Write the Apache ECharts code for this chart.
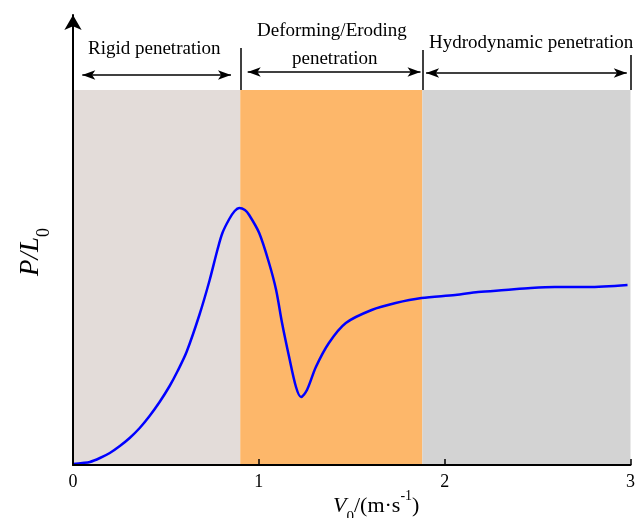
<!DOCTYPE html>
<html>
<head>
<meta charset="utf-8">
<script src="https://cdn.jsdelivr.net/npm/echarts@6/dist/echarts.min.js"></script>
<style>
  html, body { margin: 0; padding: 0; background: #fff; }
  #main { width: 638px; height: 518px; }
</style>
</head>
<body>
<div id="main"></div>
<script>
// кривая P/L0 от V0
const v0 = [0.00, 0.050, 0.091, 0.145, 0.198, 0.252, 0.305, 0.359, 0.412, 0.466, 0.520, 0.563, 0.611, 0.680,
  0.734, 0.777, 0.804, 0.841, 0.870, 0.895,
  0.925, 0.948, 1.002, 1.055, 1.093, 1.125, 1.163, 1.200, 1.227, 1.259, 1.307, 1.377, 1.468, 1.607, 1.736,
  1.875, 2.057, 2.180, 2.325, 2.464, 2.593, 2.770, 2.984];
const pl = [1, 2, 3, 7, 12, 19, 27, 37, 49, 63, 79, 94, 113, 150,
  184, 215, 232, 246, 254, 257,
  255, 250, 232, 202, 175, 142, 108, 78, 68, 75, 98, 122, 142, 155, 162,
  167, 170, 173, 175, 177, 178, 178, 180];

// границы режимов
const Vr = 0.9;
const Vh = 1.88;
const xMax = 3;
const bandTop = 375;
const xTicks = [0, 1, 2, 3];

const serif = 'Liberation Serif';

let points = v0.map((x, i) => [x, pl[i]]);

let chart = echarts.init(document.getElementById('main'));

const arrowLine = (x1, x2, y) => [{ coord: [x1, y] }, { coord: [x2, y] }];
const tickLine = (x, y2) => [{ coord: [x, bandTop], symbol: 'none' }, { coord: [x, y2], symbol: 'none' }];

const subText = (main, sub, italicSub) => ({
  text: '{i|' + main + '}{s|' + sub + '}',
  rich: {
    i: { fontFamily: serif, fontStyle: 'italic', fontSize: 22, fill: '#000' },
    s: { fontFamily: serif, fontStyle: italicSub ? 'italic' : 'normal', fontSize: 15, fill: '#000', verticalAlign: 'bottom', padding: [0, 0, -8, 0] }
  }
});

chart.setOption({
  animation: false,
  grid: { left: 73, right: 5, top: 15, bottom: 53 },
  xAxis: {
    type: 'value',
    min: 0,
    max: xMax,
    interval: 1,
    z: 10,
    splitLine: { show: false },
    axisLine: { lineStyle: { color: '#000', width: 2 } },
    axisTick: { inside: true, length: 6, lineStyle: { color: '#000', width: 1.5 } },
    axisLabel: {
      color: '#000', fontSize: 18, fontFamily: serif, margin: 8,
      formatter: v => xTicks.includes(v) ? String(v) : ''
    }
  },
  yAxis: {
    type: 'value',
    min: 0,
    max: 450,
    z: 10,
    splitLine: { show: false },
    axisTick: { show: false },
    axisLabel: { show: false },
    axisLine: {
      show: true,
      symbol: ['none', 'arrow'],
      symbolSize: [13, 15],
      lineStyle: { color: '#000', width: 2 }
    }
  },
  series: [
    {
      // фоновые зоны
      type: 'line',
      data: [],
      z: 1,
      silent: true,
      markArea: {
        silent: true,
        data: [
          [{ xAxis: 0, yAxis: 0, itemStyle: { color: '#e3dcd9' } }, { xAxis: Vr, yAxis: bandTop }],
          [{ xAxis: Vr, yAxis: 0, itemStyle: { color: '#fdb76a' } }, { xAxis: Vh, yAxis: bandTop }],
          [{ xAxis: Vh, yAxis: 0, itemStyle: { color: '#d3d3d3' } }, { xAxis: xMax, yAxis: bandTop }]
        ]
      },
      markLine: {
        silent: true,
        symbol: ['arrow', 'arrow'],
        symbolSize: [7, 13],
        label: { show: false },
        lineStyle: { color: '#000', width: 1.5, type: 'solid' },
        data: [
          arrowLine(0.05, 0.85, 390),
          arrowLine(0.94, 1.87, 393),
          arrowLine(1.90, 2.98, 392),
          tickLine(Vr, 417),
          tickLine(Vh, 415),
          tickLine(xMax, 410)
        ]
      }
    },
    {
      type: 'line',
      data: points,
      smooth: 0.3,
      showSymbol: false,
      z: 3,
      lineStyle: { color: '#0000ff', width: 2.5 }
    }
  ],
  graphic: [
    { type: 'text', left: 88, top: 40, style: { text: 'Rigid penetration', font: '19px "Liberation Serif"', fill: '#000' } },
    { type: 'text', left: 257, top: 22, style: { text: 'Deforming/Eroding', font: '19px "Liberation Serif"', fill: '#000' } },
    { type: 'text', left: 292, top: 50, style: { text: 'penetration', font: '19px "Liberation Serif"', fill: '#000' } },
    { type: 'text', left: 429, top: 34, style: { text: 'Hydrodynamic penetration', font: '19px "Liberation Serif"', fill: '#000' } },
    { type: 'text', left: 211, top: 395, style: subText('V', 'r', true) },
    { type: 'text', left: 390, top: 391, style: subText('V', 'h', true) },
    {
      // подпись оси Y
      type: 'text', x: 31, y: 252, rotation: Math.PI / 2,
      style: {
        text: '{i|P/L}{s|0}',
        align: 'center',
        verticalAlign: 'middle',
        rich: {
          i: { fontFamily: serif, fontStyle: 'italic', fontSize: 27, fill: '#000' },
          s: { fontFamily: serif, fontSize: 18, fill: '#000', verticalAlign: 'bottom', padding: [0, 0, -9, 0] }
        }
      }
    },
    {
      type: 'text', left: 333, top: 489,
      style: {
        text: '{i|V}{s|0}{n|/(m·s}{p|-1}{n|)}',
        rich: {
          i: { fontFamily: serif, fontStyle: 'italic', fontSize: 22, fill: '#000' },
          s: { fontFamily: serif, fontSize: 15, fill: '#000', verticalAlign: 'bottom', padding: [0, 0, -8, 0] },
          n: { fontFamily: serif, fontSize: 22, fill: '#000' },
          p: { fontFamily: serif, fontSize: 14, fill: '#000', verticalAlign: 'top', padding: [-6, 0, 0, 0] }
        }
      }
    }
  ]
});
</script>
</body>
</html>
